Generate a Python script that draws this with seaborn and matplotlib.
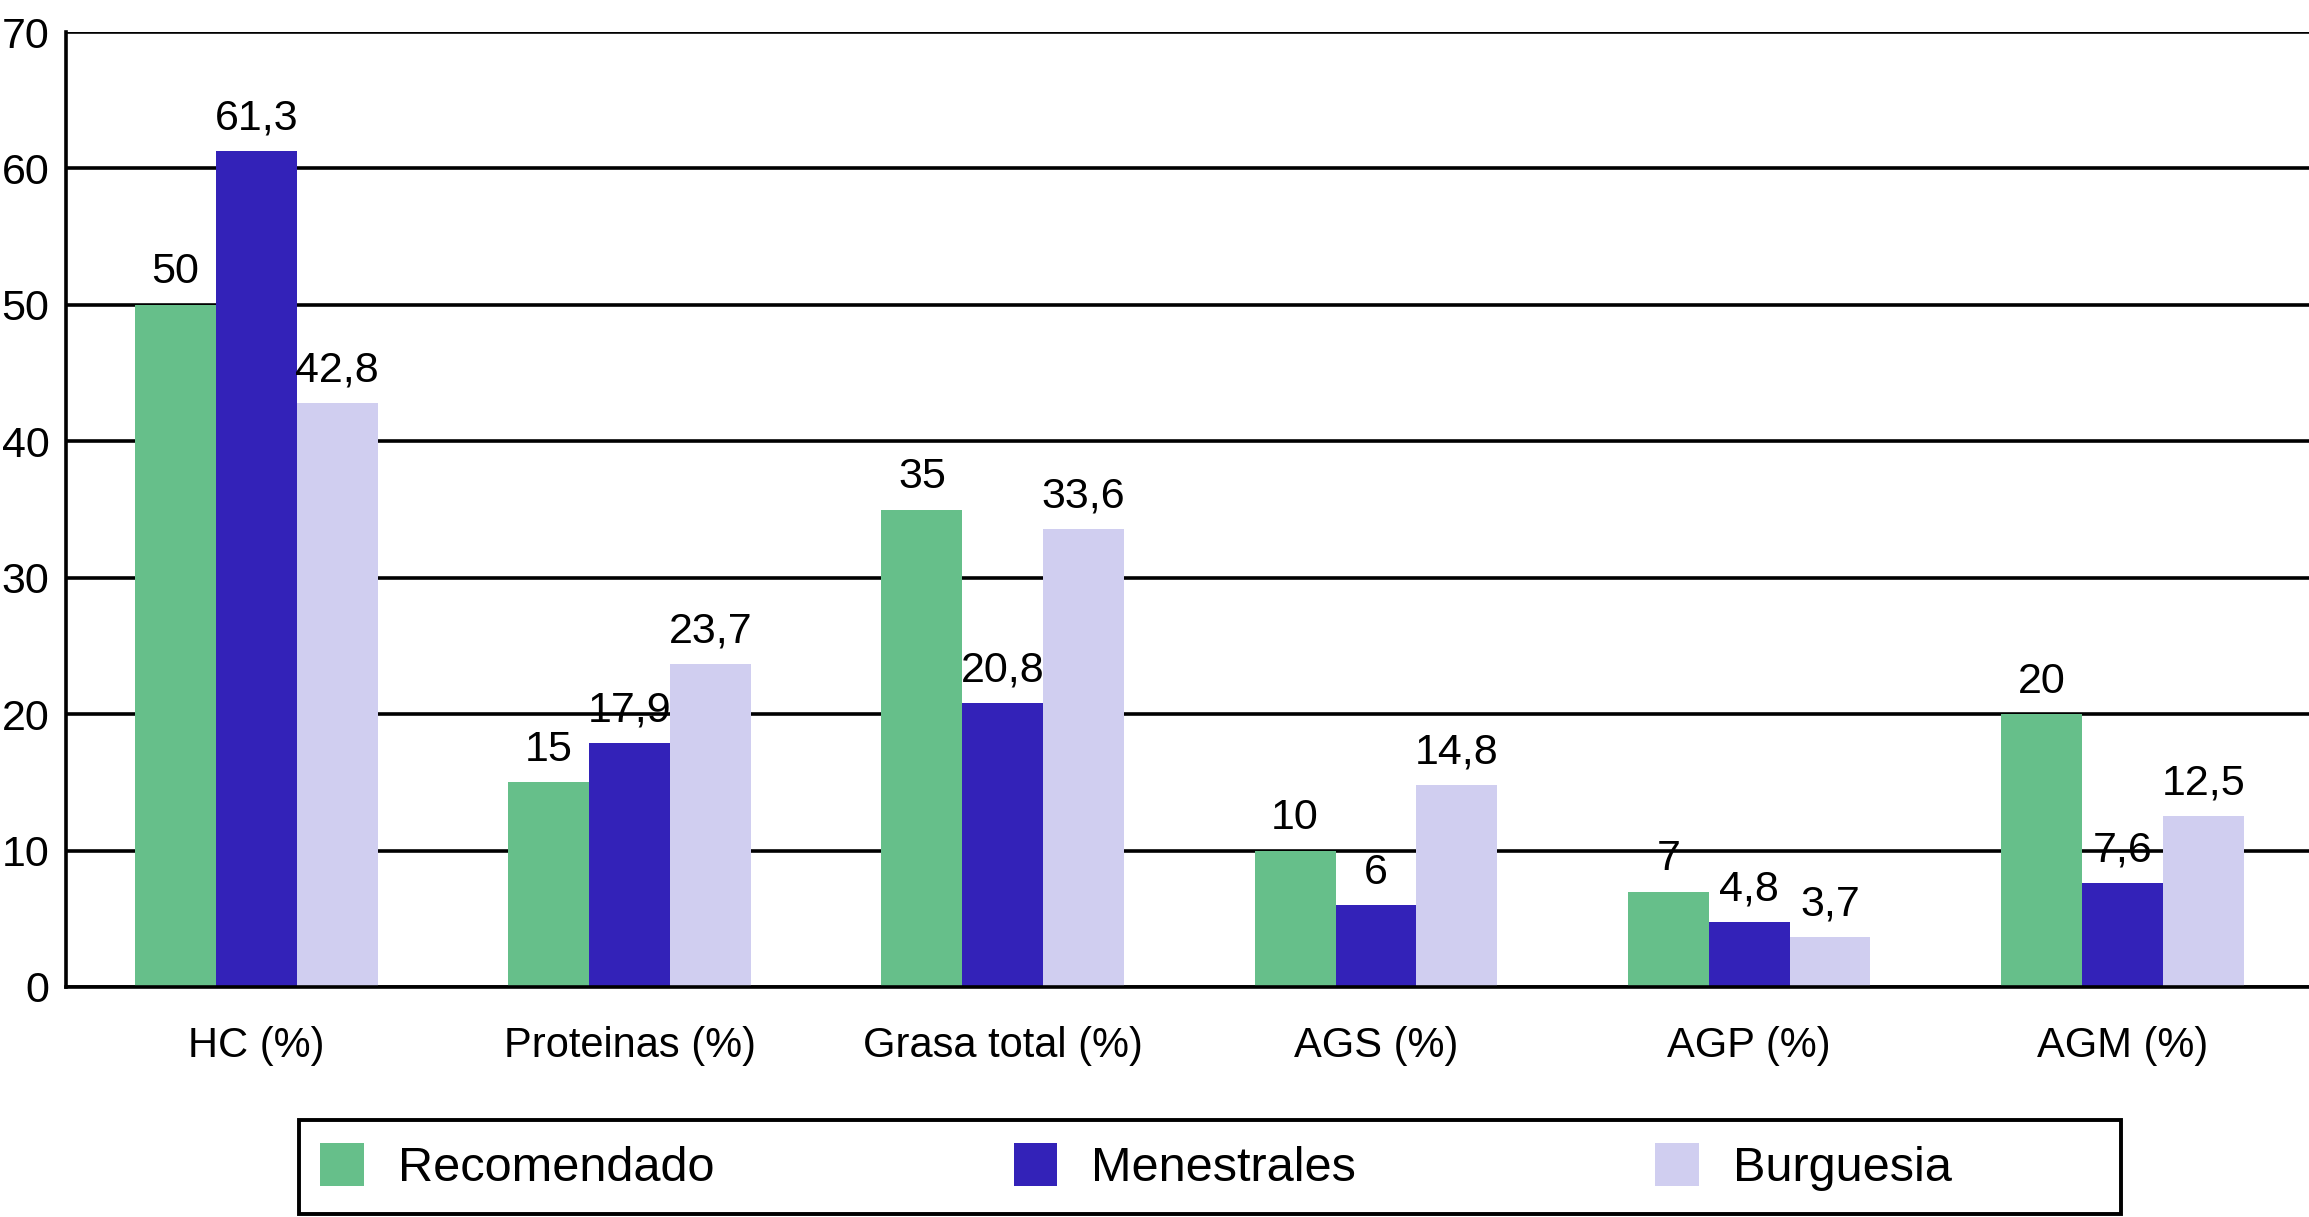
import matplotlib
matplotlib.use("Agg")
import matplotlib.pyplot as plt
import matplotlib.patches as mpatches
import pandas as pd
import seaborn as sns

categories = ["HC (%)", "Proteinas (%)", "Grasa total (%)", "AGS (%)", "AGP (%)", "AGM (%)"]
series_names = ["Recomendado", "Menestrales", "Burguesia"]
recomendado = [50, 15, 35, 10, 7, 20]
menestrales = [61.3, 17.9, 20.8, 6, 4.8, 7.6]
burguesia = [42.8, 23.7, 33.6, 14.8, 3.7, 12.5]
y_ticks = [0, 10, 20, 30, 40, 50, 60, 70]

colors = ["#66BF8A", "#3322B8", "#D0CEF0"]

df = pd.DataFrame({
    "categoria": categories * 3,
    "grupo": [series_names[0]] * 6 + [series_names[1]] * 6 + [series_names[2]] * 6,
    "valor": recomendado + menestrales + burguesia,
})

sns.set_theme(style="white")
plt.rcParams["font.family"] = ["Liberation Sans", "DejaVu Sans"]
plt.rcParams["text.color"] = "black"

fig = plt.figure(figsize=(23.09, 12.17), dpi=100)
ax = fig.add_axes([66 / 2309, 230 / 1217, 1 - 66 / 2309, (987 - 32) / 1217])

sns.barplot(data=df, x="categoria", y="valor", hue="grupo", order=categories,
            hue_order=series_names, palette=colors, saturation=1, width=0.65,
            linewidth=0, ax=ax)

def fmt(v):
    s = f"{v:g}"
    return s.replace(".", ",")

for cont in ax.containers:
    ax.bar_label(cont, labels=[fmt(b.get_height()) for b in cont], padding=9,
                 fontsize=31, color="black")

ax.set_ylim(0, 70)
ax.set_yticks(y_ticks)
ax.set_xlim(-0.51, 5.5)
ax.set_xlabel("")
ax.set_ylabel("")
ax.set_axisbelow(True)
ax.yaxis.grid(True, color="black", linewidth=2.6)
ax.xaxis.grid(False)
ax.tick_params(axis="y", length=0, pad=12, labelsize=31, labelcolor="black")
ax.tick_params(axis="x", length=0, pad=28, labelsize=30, labelcolor="black")

for side in ["top", "right"]:
    ax.spines[side].set_visible(False)
for side in ["left", "bottom"]:
    ax.spines[side].set_color("black")
    ax.spines[side].set_linewidth(2.6)

handles, labels = ax.get_legend_handles_labels()
ax.get_legend().remove()
leg = fig.legend(handles, labels, loc="center left", ncol=3, frameon=False,
                 bbox_to_anchor=(296 / 2309, 1 - 1167 / 1217), borderpad=0,
                 fontsize=35, handlelength=0.9, handleheight=0.97,
                 handletextpad=0.7, columnspacing=6.15)
for t in leg.get_texts():
    t.set_color("black")
fig.add_artist(mpatches.Rectangle((299 / 2309, 3 / 1217), (2121 - 299) / 2309, 94 / 1217,
                                  transform=fig.transFigure, fill=False,
                                  edgecolor="black", linewidth=2.8))

fig.savefig("out.png", dpi=100)
